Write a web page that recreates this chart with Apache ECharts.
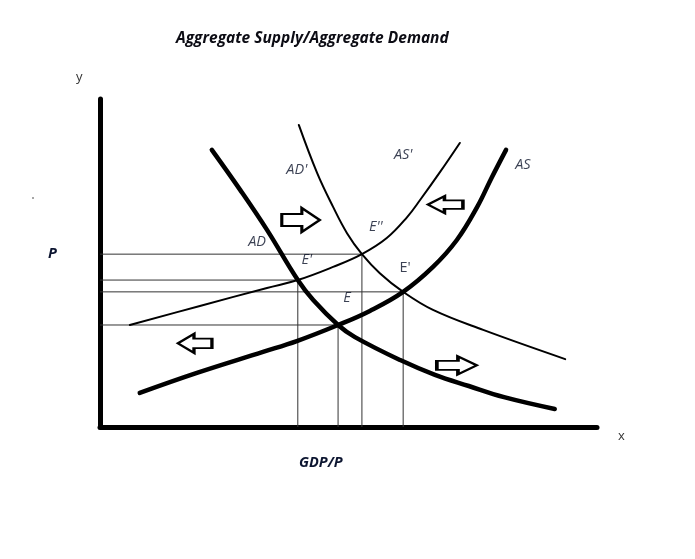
<!DOCTYPE html>
<html>
<head>
<meta charset="utf-8">
<script src="https://cdn.jsdelivr.net/npm/echarts@6/dist/echarts.min.js"></script>
<style>html,body{margin:0;padding:0;background:#fff}#c{width:695px;height:559px}</style>
</head>
<body>
<div id="c"></div>
<script>
const AD = [[22.5,84.5],[28.2,72.3],[33.6,60.1],[39.8,44.8],[42.9,38.7],[47.9,31.1],[51.3,27.4],[60.4,20.4],[67.4,15.9],[74.2,12.5],[81.3,9.1],[91.5,5.5]];
const AS = [[8.0,10.4],[19.5,16.5],[32.8,22.9],[39.6,26.2],[47.9,31.1],[54.3,35.4],[61.0,41.2],[67.0,48.8],[71.8,57.0],[75.9,67.1],[78.8,76.0],[81.7,84.5]];
const AS2 = [[6.0,31.1],[20.1,36.9],[33.6,42.4],[39.8,44.8],[46.9,48.8],[52.7,52.7],[57.7,57.6],[61.8,64.0],[64.4,69.2],[68.4,77.7],[72.4,86.6]];
const AD2 = [[40.0,92.1],[43.7,77.4],[46.9,67.1],[49.7,59.1],[52.7,52.7],[56.3,46.9],[61.0,41.2],[67.0,35.7],[77.1,29.6],[93.6,20.7]];
// Equilibrium points (guide lines drop to axes)
const eqX = [39.8, 47.9, 52.7, 61.0];
const eqY = [44.8, 31.1, 52.7, 41.2];
// Curve / point labels
const labelNames = ["AD'", "AS'", "AS", "AD", "E''", "E'", "E'", "E"];
const labelX = [39.6, 61.0, 85.1, 31.6, 55.5, 41.6, 61.4, 49.7];
const labelY = [78.4, 82.9, 79.9, 56.4, 61.0, 50.9, 48.5, 39.3];
const labelItalic = [true, true, true, true, true, true, false, true];
// Shift arrows: position and direction
const arrowX = [40.4, 69.5, 19.1, 71.8];
const arrowY = [63.1, 67.8, 25.5, 18.8];
const arrowDir = ['right', 'left', 'left', 'right'];
const arrowW = [38, 35, 34, 40];
const arrowH = [24, 17, 19, 18];

const arrowPath = 'path://M0,6 L19,6 L19,0 L36,12 L19,24 L19,18 L0,18 Z';
const FONT = '"Open Sans", Lato, sans-serif';

const series = [];
eqX.forEach((x, i) => {
  series.push({
    type: 'line', data: [[0, eqY[i]], [x, eqY[i]], [x, 0]],
    symbol: 'none', lineStyle: {color: '#333', width: 1}, z: 1, silent: true
  });
});
function curve(d, w) {
  return {type: 'line', data: d, smooth: 0.4, symbol: 'none',
    lineStyle: {color: '#000', width: w, cap: 'round', join: 'round'}, z: 3};
}
series.push(curve(AD, 4.5), curve(AS, 4.5), curve(AS2, 2), curve(AD2, 2));
series.push({
  type: 'scatter', z: 5,
  data: arrowX.map((x, i) => ({
    value: [x, arrowY[i]],
    symbolSize: [arrowW[i], arrowH[i]],
    symbolRotate: arrowDir[i] === 'left' ? 180 : 0
  })),
  symbol: arrowPath, symbolKeepAspect: false,
  itemStyle: {color: '#fff', borderColor: '#000', borderWidth: 2.5, opacity: 1}
});
series.push({
  type: 'scatter', z: 6, symbolSize: 1,
  itemStyle: {color: 'rgba(0,0,0,0)'},
  data: labelNames.map((n, i) => ({
    value: [labelX[i], labelY[i]], name: n,
    label: {fontStyle: labelItalic[i] ? 'italic' : 'normal'}
  })),
  label: {
    show: true, position: 'inside', formatter: p => p.name,
    color: '#0a1228', fontSize: 14.5, fontFamily: FONT
  }
});

const chart = echarts.init(document.getElementById('c'));
chart.setOption({
  animation: false,
  backgroundColor: '#fff',
  title: {
    text: 'Aggregate Supply/Aggregate Demand', left: 171, top: 26,
    textStyle: {fontSize: 15.5, fontWeight: 'bold', fontStyle: 'italic', color: '#0c0c14', fontFamily: FONT}
  },
  grid: {left: 100, right: 98, top: 99, bottom: 132, containLabel: false},
  xAxis: {
    type: 'value', min: 0, max: 100,
    axisLine: {show: true, onZero: false, lineStyle: {color: '#000', width: 5}},
    axisTick: {show: false}, axisLabel: {show: false}, splitLine: {show: false}
  },
  yAxis: {
    type: 'value', min: 0, max: 100,
    axisLine: {show: true, onZero: false, lineStyle: {color: '#000', width: 5}},
    axisTick: {show: false}, axisLabel: {show: false}, splitLine: {show: false}
  },
  graphic: [
    {type: 'text', left: 618, top: 430, style: {text: 'x', fontSize: 13, fill: '#333', fontFamily: FONT}},
    {type: 'text', left: 76, top: 71, style: {text: 'y', fontSize: 13, fill: '#333', fontFamily: FONT}},
    {type: 'text', left: 48, top: 246, style: {text: 'P', fontSize: 14.5, fontWeight: 'bold', fontStyle: 'italic', fill: '#0c1530', fontFamily: FONT}},
    {type: 'text', left: 299, top: 455, style: {text: 'GDP/P', fontSize: 14.5, fontWeight: 'bold', fontStyle: 'italic', fill: '#0c1530', fontFamily: FONT}},
    {type: 'circle', shape: {cx: 33, cy: 198, r: 1}, style: {fill: '#888'}}
  ],
  series: series
});
</script>
</body>
</html>
